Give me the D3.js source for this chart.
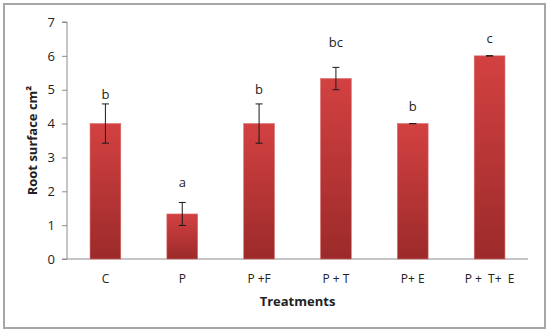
<!DOCTYPE html>
<html>
<head>
<meta charset="utf-8">
<script src="https://cdn.jsdelivr.net/npm/d3@7"></script>
<style>
  body { margin: 0; background: #fff; }
  #viz { width: 550px; height: 335px; }
  text { font-family: "Open Sans", "Noto Sans", sans-serif; fill: #222; }
</style>
</head>
<body>
<div id="viz"></div>
<script>

const treatments = ["C", "P", "P +F", "P + T", "P+ E", "P +  T+  E"],
    root_surface = [4.0, 1.33, 4.0, 5.33, 4.0, 6.0],
    std_error = [0.58, 0.34, 0.58, 0.33, 0.0, 0.0],
    letters = ["b", "a", "b", "bc", "b", "c"],
    letter_height = [4.85, 2.25, 5.0, 6.4, 4.5, 6.5],
    y_ticks = [0, 1, 2, 3, 4, 5, 6, 7]

const width = 550,
    height = 335,
    margin = { top: 22, right: 22, bottom: 76, left: 67 }

const svg = d3.select("#viz").append("svg")
    .attr("width", width)
    .attr("height", height)

// outer frame
svg.append("rect")
    .attr("x", 4).attr("y", 4)
    .attr("width", 541).attr("height", 324)
    .attr("fill", "none")
    .attr("stroke", "#a6a6a6")
    .attr("stroke-width", 2)

var x = d3.scaleBand()
    .domain(treatments)
    .range([margin.left, width - margin.right])
    .paddingInner(0.6)
    .paddingOuter(0.3)

var y = d3.scaleLinear()
    .domain([0, 7])
    .range([height - margin.bottom, margin.top])

// gradient for the bars
var grad = svg.append("defs").append("linearGradient")
    .attr("id", "barfill")
    .attr("x1", 0).attr("y1", 0).attr("x2", 0).attr("y2", 1)
grad.append("stop").attr("offset", "0%").attr("stop-color", "#d34141")
grad.append("stop").attr("offset", "100%").attr("stop-color", "#9c2a2a")

// y axis
var yAxis = svg.append("g")
    .attr("transform", "translate(" + margin.left + ",0)")
    .call(d3.axisLeft(y).tickValues(y_ticks).tickSize(5).tickPadding(7).tickFormat(d3.format("d")))
yAxis.selectAll("line, path").attr("stroke", "#8c8c8c")
yAxis.select(".domain").attr("d", "M-5," + y(7) + "H0V" + y(0))
yAxis.selectAll("text")
    .style("font-size", "13px")
    .style("font-family", "'Open Sans', sans-serif")
    .attr("fill", "#222")

// x axis line
svg.append("line")
    .attr("x1", margin.left - 5).attr("x2", width - margin.right)
    .attr("y1", y(0)).attr("y2", y(0))
    .attr("stroke", "#8c8c8c")

// bars
svg.append("g").selectAll("rect")
    .data(treatments)
    .enter().append("rect")
    .attr("x", d => x(d))
    .attr("width", x.bandwidth())
    .attr("y", (d, i) => y(root_surface[i]))
    .attr("height", (d, i) => y(0) - y(root_surface[i]))
    .attr("fill", "url(#barfill)")
    .attr("stroke", "#d86a6a")
    .attr("stroke-width", 0.6)

// error bars
var err = svg.append("g").attr("stroke", "#1a1a1a").attr("stroke-width", 1)
treatments.forEach(function(t, i) {
    var cx = x(t) + x.bandwidth() / 2,
        top = y(root_surface[i] + std_error[i]),
        bot = y(root_surface[i] - std_error[i])
    err.append("line").attr("x1", cx).attr("x2", cx).attr("y1", top).attr("y2", bot)
    err.append("line").attr("x1", cx - 3.5).attr("x2", cx + 3.5).attr("y1", top).attr("y2", top)
    err.append("line").attr("x1", cx - 3.5).attr("x2", cx + 3.5).attr("y1", bot).attr("y2", bot)
})

// significance letters
svg.append("g").selectAll("text")
    .data(treatments)
    .enter().append("text")
    .attr("x", d => x(d) + x.bandwidth() / 2)
    .attr("y", (d, i) => y(letter_height[i]))
    .attr("text-anchor", "middle")
    .attr("dy", "0.35em")
    .style("font-size", "13px")
    .text((d, i) => letters[i])

// category labels
svg.append("g").selectAll("text")
    .data(treatments)
    .enter().append("text")
    .attr("x", d => x(d) + x.bandwidth() / 2)
    .attr("y", y(0) + 24)
    .attr("text-anchor", "middle")
    .style("font-size", "12px")
    .style("white-space", "pre")
    .attr("xml:space", "preserve")
    .text(d => d)

// axis titles
svg.append("text")
    .attr("x", (margin.left + width - margin.right) / 2)
    .attr("y", 306)
    .attr("text-anchor", "middle")
    .style("font-size", "13px")
    .style("font-weight", "bold")
    .text("Treatments")

svg.append("text")
    .attr("transform", "translate(37," + ((y(0) + y(7)) / 2) + ") rotate(-90)")
    .attr("text-anchor", "middle")
    .style("font-size", "13px")
    .style("font-weight", "bold")
    .text("Root surface cm²")

</script>
</body>
</html>
